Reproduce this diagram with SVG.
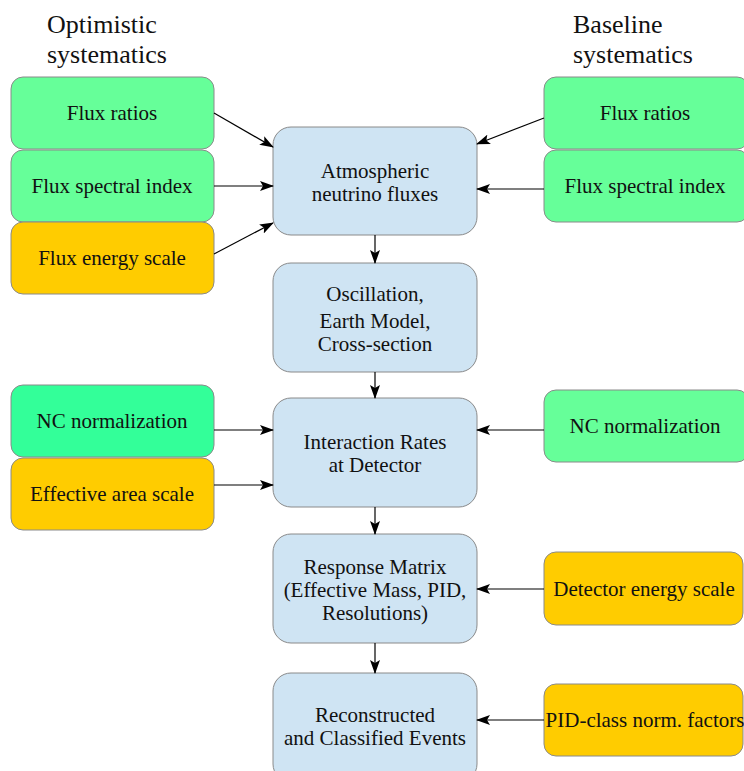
<svg xmlns="http://www.w3.org/2000/svg" width="744" height="771" viewBox="0 0 744 771">
<style>
.box rect{stroke:#8a8a8a;stroke-width:1}
.g1 rect{fill:#66ff99}
.g2 rect{fill:#33ff99}
.or rect{fill:#ffcc00}
.bl rect{fill:#cfe4f3}
text{font-family:"Liberation Serif","DejaVu Serif",serif;font-size:21px;fill:#111;text-anchor:middle}
.title{font-size:26px;text-anchor:start}
.conn line{stroke:#000;stroke-width:1.2;marker-end:url(#ah)}
</style>
<defs>
<marker id="ah" markerWidth="14" markerHeight="10" refX="13" refY="5" orient="auto" markerUnits="userSpaceOnUse">
<path d="M0,0 L14,5 L0,10 L3,5 z" fill="#000"/>
</marker>
</defs>
<rect width="744" height="771" fill="#fff"/>
<text class="title" x="47" y="33">Optimistic</text>
<text class="title" x="47" y="63">systematics</text>
<text class="title" x="573" y="33">Baseline</text>
<text class="title" x="573" y="63">systematics</text>

<g id="l_flux_ratios" class="box g1"><rect x="11" y="77" width="203" height="72" rx="12"/><text x="112" y="120">Flux ratios</text></g>
<g id="l_flux_spectral" class="box g1"><rect x="11" y="150" width="203" height="72" rx="12"/><text x="112" y="193">Flux spectral index</text></g>
<g id="l_flux_energy" class="box or"><rect x="11" y="222" width="203" height="72" rx="12"/><text x="112" y="265">Flux energy scale</text></g>
<g id="l_nc" class="box g2"><rect x="11" y="385" width="203" height="72" rx="12"/><text x="112" y="428">NC normalization</text></g>
<g id="l_eff_area" class="box or"><rect x="11" y="458" width="203" height="72" rx="12"/><text x="112" y="501">Effective area scale</text></g>

<g id="c_atm" class="box bl"><rect x="273" y="127" width="204" height="108" rx="18"/><text x="375" y="178">Atmospheric</text><text x="375" y="201">neutrino fluxes</text></g>
<g id="c_osc" class="box bl"><rect x="273" y="263" width="204" height="109" rx="18"/><text x="375" y="301">Oscillation,</text><text x="375" y="328">Earth Model,</text><text x="375" y="351">Cross-section</text></g>
<g id="c_int" class="box bl"><rect x="273" y="398" width="204" height="109" rx="18"/><text x="375" y="449">Interaction Rates</text><text x="375" y="472">at Detector</text></g>
<g id="c_resp" class="box bl"><rect x="273" y="534" width="204" height="109" rx="18"/><text x="375" y="574">Response Matrix</text><text x="375" y="597">(Effective Mass, PID,</text><text x="375" y="620">Resolutions)</text></g>
<g id="c_reco" class="box bl"><rect x="273" y="673" width="204" height="109" rx="18"/><text x="375" y="722">Reconstructed</text><text x="375" y="745">and Classified Events</text></g>

<g id="r_flux_ratios" class="box g1"><rect x="544" y="77" width="205" height="72" rx="12"/><text x="645" y="120">Flux ratios</text></g>
<g id="r_flux_spectral" class="box g1"><rect x="544" y="150" width="205" height="72" rx="12"/><text x="645" y="193">Flux spectral index</text></g>
<g id="r_nc" class="box g1"><rect x="544" y="390" width="205" height="72" rx="12"/><text x="645" y="433">NC normalization</text></g>
<g id="r_det" class="box or"><rect x="544" y="552" width="199" height="73" rx="12"/><text x="644" y="596">Detector energy scale</text></g>
<g id="r_pid" class="box or"><rect x="544" y="684" width="199" height="72" rx="12"/><text x="645" y="727">PID-class norm. factors</text></g>

<g id="connectors" class="conn">
<line x1="214" y1="113" x2="273" y2="147"/>
<line x1="214" y1="186" x2="273" y2="186"/>
<line x1="214" y1="254" x2="273" y2="223"/>
<line x1="544" y1="118" x2="477" y2="144"/>
<line x1="544" y1="189" x2="477" y2="189"/>
<line x1="375" y1="235" x2="375" y2="263"/>
<line x1="375" y1="372" x2="375" y2="398"/>
<line x1="214" y1="430" x2="273" y2="430"/>
<line x1="214" y1="485" x2="273" y2="485"/>
<line x1="544" y1="430" x2="477" y2="430"/>
<line x1="375" y1="507" x2="375" y2="534"/>
<line x1="544" y1="589" x2="477" y2="589"/>
<line x1="375" y1="643" x2="375" y2="673"/>
<line x1="544" y1="720" x2="477" y2="720"/>
</g>
</svg>
